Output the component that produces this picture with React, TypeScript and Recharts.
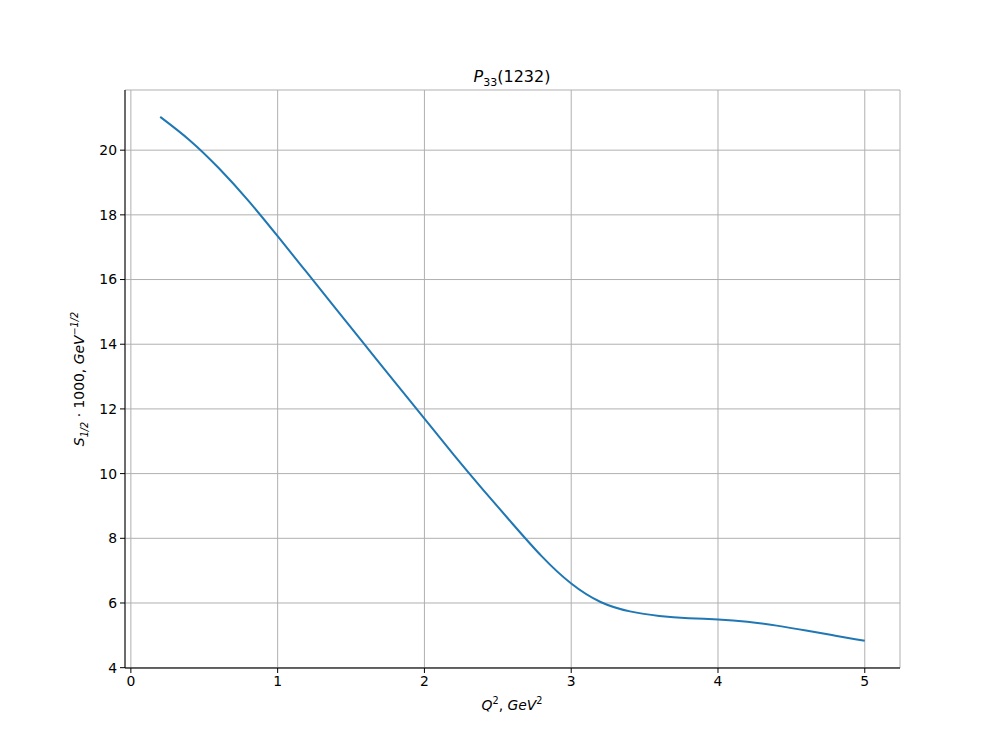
import { LineChart, Line, XAxis, YAxis, CartesianGrid } from 'recharts';

const q2 = [0.2, 0.4, 0.6, 0.8, 1.0, 1.2, 1.4, 1.6, 1.8, 2.0, 2.2, 2.4, 2.6, 2.8, 3.0, 3.2, 3.4, 3.6, 3.8, 4.0, 4.2, 4.4, 4.6, 4.8, 5.0];
const s12 = [21.03, 20.31, 19.44, 18.44, 17.34, 16.21, 15.08, 13.95, 12.82, 11.7, 10.58, 9.5, 8.45, 7.44, 6.6, 6.03, 5.74, 5.6, 5.53, 5.49, 5.42, 5.3, 5.15, 4.99, 4.83];

const xTicks = [0, 1, 2, 3, 4, 5];
const yTicks = [4, 6, 8, 10, 12, 14, 16, 18, 20];
const xMinor = [0.2, 0.4, 0.6, 0.8, 1.2, 1.4, 1.6, 1.8, 2.2, 2.4, 2.6, 2.8, 3.2, 3.4, 3.6, 3.8, 4.2, 4.4, 4.6, 4.8, 5.2];
const yMinor = [4.5, 5, 5.5, 6.5, 7, 7.5, 8.5, 9, 9.5, 10.5, 11, 11.5, 12.5, 13, 13.5, 14.5, 15, 15.5, 16.5, 17, 17.5, 18.5, 19, 19.5, 20.5, 21, 21.5];

const xDomain = [-0.04, 5.24];
const yDomain = [3.99, 21.86];

const chartData = q2.map((x, i) => ({ x, y: s12[i] }));

const FONT = 'DejaVu Sans, sans-serif';
const tickStyle = { fill: '#000', fontSize: 13.9, fontFamily: FONT };

export default function App() {
  return (
    <div style={{ position: 'absolute', left: 0, top: 0, width: 1000, height: 750, background: '#fff' }}>
      <LineChart width={1000} height={750} data={chartData} margin={{ top: 90, right: 100, left: 65, bottom: 52 }}>
        <CartesianGrid stroke="#b0b0b0" strokeWidth={1} />
        {/* minor ticks first so they sit on the plot edge with no extra space */}
        <XAxis
          xAxisId="minor"
          dataKey="x"
          type="number"
          domain={xDomain}
          ticks={xMinor}
          allowDataOverflow
          height={0}
          tickSize={3}
          tick={false}
          axisLine={false}
          tickLine={{ stroke: '#000' }}
        />
        <XAxis
          dataKey="x"
          type="number"
          domain={xDomain}
          ticks={xTicks}
          allowDataOverflow
          height={30}
          tickSize={5}
          tickMargin={3}
          tick={tickStyle}
          stroke="#000"
          tickLine={{ stroke: '#000' }}
        />
        <XAxis
          xAxisId="top"
          orientation="top"
          dataKey="x"
          type="number"
          domain={xDomain}
          height={0}
          tick={false}
          tickLine={false}
          stroke="#000"
        />
        <YAxis
          yAxisId="minor"
          type="number"
          domain={yDomain}
          ticks={yMinor}
          allowDataOverflow
          width={0}
          tickSize={3}
          tick={false}
          axisLine={false}
          tickLine={{ stroke: '#000' }}
        />
        <YAxis
          type="number"
          domain={yDomain}
          ticks={yTicks}
          allowDataOverflow
          width={60}
          tickSize={5}
          tickMargin={3}
          tick={tickStyle}
          stroke="#000"
          tickLine={{ stroke: '#000' }}
        />
        <YAxis
          yAxisId="right"
          orientation="right"
          type="number"
          domain={yDomain}
          width={0}
          tick={false}
          tickLine={false}
          stroke="#000"
        />
        <Line
          type="natural"
          dataKey="y"
          stroke="#1f77b4"
          strokeWidth={2}
          dot={false}
          isAnimationActive={false}
        />
      </LineChart>
      <svg width={1000} height={750} style={{ position: 'absolute', left: 0, top: 0, pointerEvents: 'none' }}>
        <text x={512} y={82} textAnchor="middle" fontSize={16} fontFamily={FONT} fill="#000">
          <tspan fontStyle="italic">P</tspan>
          <tspan fontSize={11} dy={4}>33</tspan>
          <tspan dy={-4}>(1232)</tspan>
        </text>
        <text x={512} y={710} textAnchor="middle" fontSize={13.9} fontFamily={FONT} fill="#000">
          <tspan fontStyle="italic">Q</tspan>
          <tspan fontSize={9.7} dy={-6}>2</tspan>
          <tspan dy={6}>, </tspan>
          <tspan fontStyle="italic">GeV</tspan>
          <tspan fontSize={9.7} dy={-6}>2</tspan>
        </text>
        <text
          x={0}
          y={0}
          textAnchor="middle"
          fontSize={13.9}
          fontFamily={FONT}
          fill="#000"
          transform="translate(84,379) rotate(-90)"
        >
          <tspan fontStyle="italic">S</tspan>
          <tspan fontSize={9.7} fontStyle="italic" dy={4}>1/2</tspan>
          <tspan dy={-4}> · 1000, </tspan>
          <tspan fontStyle="italic">GeV</tspan>
          <tspan fontSize={9.7} fontStyle="italic" dy={-6}>−1/2</tspan>
        </text>
      </svg>
    </div>
  );
}
